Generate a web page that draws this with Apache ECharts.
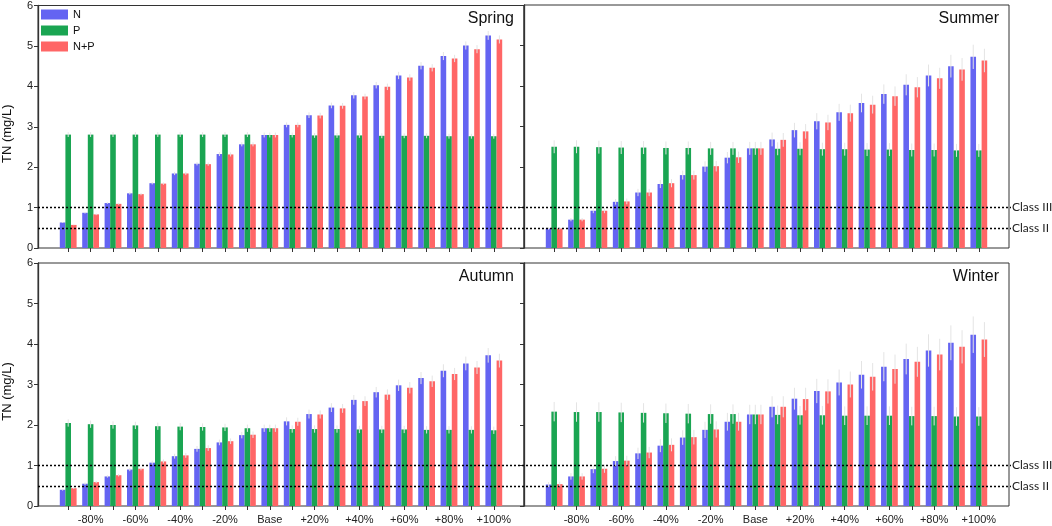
<!DOCTYPE html>
<html>
<head>
<meta charset="utf-8">
<script src="https://cdn.jsdelivr.net/npm/echarts@6/dist/echarts.min.js"></script>
</head>
<body style="margin:0;background:#fff">
<div id="main" style="width:1052px;height:526px;"></div>
<script type="text/javascript">
    // scenario categories (-90% .. +100%), labels shown every other one
    var categories = ['-90%', '-80%', '-70%', '-60%', '-50%', '-40%', '-30%', '-20%', '-10%', 'Base',
        '+10%', '+20%', '+30%', '+40%', '+50%', '+60%', '+70%', '+80%', '+90%', '+100%'];
    var seriesNames = ['N', 'P', 'N+P'];
    var seasons = ['Spring', 'Summer', 'Autumn', 'Winter'];
    var classValues = [1.0, 0.5];
    var classNames = ['Class III', 'Class II'];
    var yTicks = [0, 1, 2, 3, 4, 5, 6];

    // TN (mg/L)
    var springN = [0.63, 0.87, 1.11, 1.35, 1.60, 1.84, 2.08, 2.32, 2.56, 2.79, 3.04, 3.28, 3.52, 3.77, 4.02, 4.26, 4.50, 4.74, 5.00, 5.25];
    var springP = [2.80, 2.80, 2.80, 2.80, 2.80, 2.80, 2.80, 2.80, 2.80, 2.79, 2.79, 2.78, 2.78, 2.78, 2.77, 2.77, 2.77, 2.76, 2.76, 2.76];
    var springNP = [0.57, 0.83, 1.09, 1.33, 1.59, 1.84, 2.07, 2.31, 2.56, 2.79, 3.04, 3.27, 3.51, 3.74, 3.98, 4.21, 4.45, 4.68, 4.91, 5.15];

    var summerN = [0.48, 0.70, 0.92, 1.14, 1.37, 1.58, 1.80, 2.01, 2.23, 2.46, 2.68, 2.91, 3.13, 3.35, 3.58, 3.80, 4.03, 4.26, 4.49, 4.72];
    var summerP = [2.50, 2.50, 2.49, 2.48, 2.48, 2.47, 2.47, 2.46, 2.46, 2.46, 2.45, 2.45, 2.44, 2.44, 2.43, 2.43, 2.42, 2.42, 2.41, 2.41];
    var summerNP = [0.48, 0.70, 0.92, 1.15, 1.37, 1.60, 1.80, 2.02, 2.24, 2.46, 2.67, 2.88, 3.10, 3.33, 3.54, 3.75, 3.97, 4.19, 4.41, 4.63];

    var autumnN = [0.40, 0.55, 0.73, 0.90, 1.07, 1.23, 1.41, 1.57, 1.75, 1.92, 2.09, 2.27, 2.43, 2.62, 2.81, 2.98, 3.16, 3.34, 3.52, 3.72];
    var autumnP = [2.05, 2.02, 2.00, 1.99, 1.97, 1.96, 1.95, 1.94, 1.92, 1.92, 1.90, 1.90, 1.90, 1.89, 1.89, 1.89, 1.88, 1.88, 1.88, 1.87];
    var autumnNP = [0.44, 0.59, 0.76, 0.92, 1.10, 1.25, 1.43, 1.60, 1.76, 1.92, 2.08, 2.26, 2.41, 2.59, 2.75, 2.92, 3.08, 3.26, 3.42, 3.59];

    var winterN = [0.53, 0.73, 0.91, 1.11, 1.30, 1.49, 1.69, 1.88, 2.08, 2.26, 2.45, 2.65, 2.84, 3.05, 3.24, 3.44, 3.63, 3.84, 4.03, 4.23];
    var winterP = [2.33, 2.32, 2.32, 2.31, 2.30, 2.29, 2.28, 2.27, 2.27, 2.26, 2.25, 2.24, 2.24, 2.23, 2.23, 2.23, 2.22, 2.22, 2.21, 2.21];
    var winterNP = [0.54, 0.73, 0.92, 1.12, 1.32, 1.51, 1.70, 1.89, 2.08, 2.26, 2.45, 2.64, 2.83, 3.00, 3.19, 3.38, 3.56, 3.74, 3.93, 4.11];

    // error bar half-lengths
    var springNErr = [0.01, 0.02, 0.02, 0.03, 0.03, 0.04, 0.04, 0.05, 0.05, 0.06, 0.06, 0.07, 0.07, 0.08, 0.08, 0.09, 0.09, 0.10, 0.10, 0.11];
    var springPErr = [0.06, 0.06, 0.06, 0.06, 0.06, 0.06, 0.06, 0.06, 0.06, 0.06, 0.06, 0.06, 0.06, 0.06, 0.06, 0.06, 0.06, 0.06, 0.06, 0.06];
    var springNPErr = [0.01, 0.02, 0.02, 0.03, 0.03, 0.04, 0.04, 0.05, 0.05, 0.06, 0.06, 0.07, 0.07, 0.07, 0.08, 0.08, 0.09, 0.09, 0.10, 0.10];

    var summerNErr = [0.03, 0.04, 0.06, 0.07, 0.09, 0.10, 0.11, 0.13, 0.14, 0.16, 0.17, 0.18, 0.20, 0.21, 0.23, 0.24, 0.26, 0.27, 0.28, 0.30];
    var summerPErr = [0.16, 0.16, 0.16, 0.16, 0.16, 0.16, 0.16, 0.16, 0.16, 0.16, 0.16, 0.16, 0.16, 0.16, 0.16, 0.16, 0.16, 0.16, 0.16, 0.16];
    var summerNPErr = [0.03, 0.04, 0.06, 0.07, 0.09, 0.10, 0.11, 0.13, 0.14, 0.16, 0.17, 0.18, 0.19, 0.21, 0.22, 0.24, 0.25, 0.26, 0.28, 0.29];

    var autumnNErr = [0.02, 0.03, 0.03, 0.04, 0.05, 0.06, 0.07, 0.07, 0.08, 0.09, 0.10, 0.11, 0.11, 0.12, 0.13, 0.14, 0.15, 0.16, 0.17, 0.18];
    var autumnPErr = [0.09, 0.09, 0.09, 0.09, 0.09, 0.09, 0.09, 0.09, 0.09, 0.09, 0.09, 0.09, 0.09, 0.09, 0.09, 0.09, 0.09, 0.09, 0.09, 0.09];
    var autumnNPErr = [0.02, 0.03, 0.03, 0.04, 0.05, 0.06, 0.07, 0.07, 0.08, 0.09, 0.10, 0.10, 0.11, 0.12, 0.13, 0.14, 0.14, 0.15, 0.16, 0.17];

    var winterNErr = [0.06, 0.08, 0.10, 0.12, 0.14, 0.16, 0.18, 0.20, 0.22, 0.24, 0.26, 0.27, 0.30, 0.32, 0.34, 0.36, 0.38, 0.40, 0.43, 0.45];
    var winterPErr = [0.24, 0.24, 0.24, 0.24, 0.24, 0.24, 0.24, 0.24, 0.24, 0.24, 0.23, 0.23, 0.23, 0.23, 0.23, 0.23, 0.23, 0.23, 0.23, 0.23];
    var winterNPErr = [0.06, 0.08, 0.10, 0.12, 0.14, 0.16, 0.18, 0.20, 0.22, 0.24, 0.26, 0.28, 0.30, 0.32, 0.34, 0.36, 0.37, 0.39, 0.41, 0.43];

    var seasonData = [
        [springN, springP, springNP],
        [summerN, summerP, summerNP],
        [autumnN, autumnP, autumnNP],
        [winterN, winterP, winterNP]
    ];
    var seasonErr = [
        [springNErr, springPErr, springNPErr],
        [summerNErr, summerPErr, summerNPErr],
        [autumnNErr, autumnPErr, autumnNPErr],
        [winterNErr, winterPErr, winterNPErr]
    ];

    var colors = ['#6464F2', '#1AA552', '#FF6666'];
    var font = 'Liberation Sans, Arial, sans-serif';

    // panel boxes: [left, top, width, height]
    var boxes = [[38, 5, 486, 243], [524, 5, 485, 243], [38, 263, 486, 243], [524, 263, 485, 243]];
    var inset = 19;

    var myChart = echarts.init(document.getElementById('main'));

    var grid = [], xAxis = [], yAxis = [], series = [], title = [];

    function errRender(k) {
        return function (params, api) {
            var x = api.value(0), v = api.value(1), e = api.value(2);
            var bw = api.size([1, 0])[0] * 0.75 / 3;
            var off = (k - 1) * bw;
            var lo = api.coord([x, v - e]);
            var hi = api.coord([x, v + e]);
            return {
                type: 'line',
                shape: {x1: lo[0] + off, y1: lo[1], x2: hi[0] + off, y2: hi[1]},
                style: {stroke: '#e4e4e4', lineWidth: 1}
            };
        };
    }

    boxes.forEach(function (b, p) {
        var isLeft = (p % 2 === 0), isBottom = (p >= 2);
        // outer box with the y axis
        grid.push({left: b[0], top: b[1], width: b[2], height: b[3], show: true,
            borderColor: '#333', borderWidth: 1, backgroundColor: 'transparent'});
        var gBox = grid.length - 1;
        xAxis.push({type: 'value', gridIndex: gBox, show: false, min: 0, max: 1});
        yAxis.push({
            type: 'value', gridIndex: gBox, min: yTicks[0], max: yTicks[yTicks.length - 1], interval: 1,
            name: isLeft ? 'TN (mg/L)' : '', nameLocation: 'middle', nameGap: 24,
            nameTextStyle: {fontFamily: font, fontSize: 13, color: '#111', padding: [0, 14, 0, 0]},
            axisLine: {show: true, lineStyle: {color: '#333', width: 1.3}},
            axisTick: {show: true, length: 4, lineStyle: {color: '#333'}},
            axisLabel: {show: isLeft, fontFamily: font, fontSize: 11, color: '#222', margin: 5},
            splitLine: {show: false}
        });
        // inner grid for the bars
        grid.push({left: b[0] + inset, top: b[1], width: b[2] - 2 * inset, height: b[3]});
        var gBar = grid.length - 1;
        xAxis.push({
            type: 'category', gridIndex: gBar, data: categories,
            axisLine: {show: false},
            axisTick: {show: true, alignWithLabel: true, interval: 0, length: 4, lineStyle: {color: '#333'}},
            axisLabel: {show: isBottom, fontFamily: font, fontSize: 11, color: '#222', margin: 8,
                interval: function (idx) { return idx % 2 === 1; }}
        });
        yAxis.push({type: 'value', gridIndex: gBar, show: false, min: 0, max: 6});
        var axIdx = xAxis.length - 1;

        seriesNames.forEach(function (name, k) {
            series.push({
                name: name, type: 'bar', xAxisIndex: axIdx, yAxisIndex: axIdx,
                barCategoryGap: '25%', barGap: '0%',
                itemStyle: {color: colors[k]},
                data: seasonData[p][k]
            });
        });
        seriesNames.forEach(function (name, k) {
            series.push({
                name: name + ' err', type: 'custom', xAxisIndex: axIdx, yAxisIndex: axIdx, z: 5,
                renderItem: errRender(k), silent: true,
                data: seasonData[p][k].map(function (v, i) { return [i, v, seasonErr[p][k][i]]; })
            });
        });

        title.push({
            text: seasons[p], right: 1052 - (b[0] + b[2]) + 10, top: b[1] + 6, padding: 0,
            textStyle: {fontFamily: font, fontSize: 16, fontWeight: 'normal', color: '#111'}
        });
    });

    // water quality class lines across each row
    [5, 263].forEach(function (top) {
        grid.push({left: 38, top: top, width: 973, height: 243});
        var g = grid.length - 1;
        xAxis.push({type: 'value', gridIndex: g, show: false, min: 0, max: 1});
        yAxis.push({type: 'value', gridIndex: g, show: false, min: 0, max: 6});
        var ax = xAxis.length - 1;
        series.push({
            type: 'line', xAxisIndex: ax, yAxisIndex: ax, data: [], silent: true,
            markLine: {
                symbol: 'none', silent: true, animation: false,
                lineStyle: {type: [2, 2], color: '#000', width: 1.4},
                label: {position: 'end', distance: 1, fontFamily: 'Lato, Noto Sans, sans-serif', fontSize: 12, color: '#222'},
                data: classValues.map(function (v, i) {
                    return {yAxis: v, label: {formatter: classNames[i]}};
                })
            }
        });
    });

    var option = {
        animation: false,
        title: title,
        legend: {
            data: seriesNames, orient: 'vertical', left: 41, top: 9, padding: 0,
            itemWidth: 27, itemHeight: 10, itemGap: 5, icon: 'rect',
            textStyle: {fontFamily: font, fontSize: 11, color: '#111'}
        },
        grid: grid,
        xAxis: xAxis,
        yAxis: yAxis,
        series: series
    };
    myChart.setOption(option);
</script>
</body>
</html>
